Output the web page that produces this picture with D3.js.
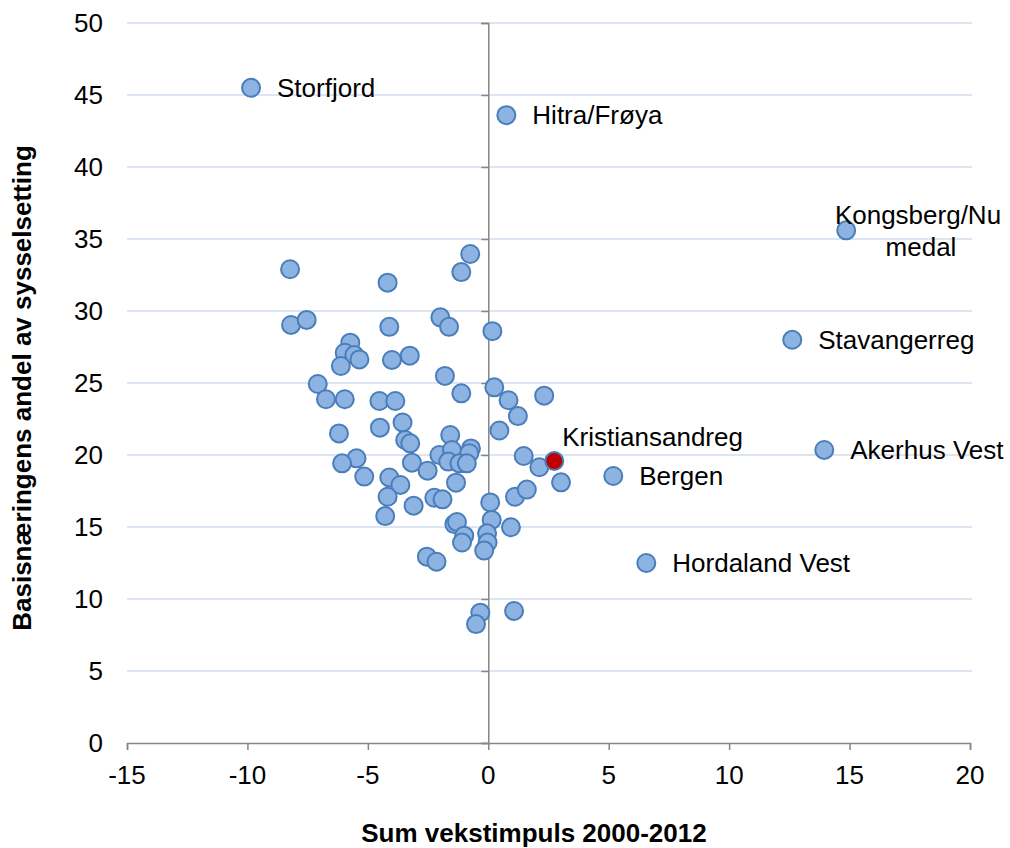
<!DOCTYPE html>
<html>
<head>
<meta charset="utf-8">
<script src="https://cdn.jsdelivr.net/npm/d3@7.9.0/dist/d3.min.js"></script>
<style>
  body { margin: 0; background: #fff; }
  svg text { font-family: "Liberation Sans", Arial, sans-serif; fill: #000; }
</style>
</head>
<body>
<svg id="chart" width="1010" height="848"></svg>
<script>
// unlabelled regions: growth impulse (x) and base industry share (y)
const otherX = [-8.23, -0.75, -1.12, -4.18, -8.19, -7.54, -4.11, -1.99, -1.63, 0.17,
  -5.73, -5.96, -5.56, -5.35, -6.12, -4.0, -3.26, -1.8, -7.08, -6.74,
  -5.96, -4.52, -3.86, -1.12, 0.25, 0.84, 1.23, 2.32, -3.56, -4.5,
  -6.2, 0.46, -3.45, -3.24, -1.58, -5.47, -6.07, -5.15, -3.17, -2.52,
  -2.03, -1.51, -1.66, -0.72, -0.79, -1.2, -0.89, -1.34, -4.11, -3.65,
  -4.18, -4.28, -3.1, -2.24, -1.9, 0.08, 1.11, 1.6, 1.47, 2.12,
  3.02, -1.41, -1.3, 0.14, 0.94, -0.05, -1.0, -1.09, -0.03, -0.17,
  -2.55, -2.15, -0.33, -0.51, 1.07];
const otherY = [32.9, 33.96, 32.7, 31.97, 29.03, 29.38, 28.9, 29.56, 28.9, 28.6,
  27.8, 27.1, 26.94, 26.64, 26.18, 26.6, 26.9, 25.49, 24.93, 23.87,
  23.87, 23.75, 23.75, 24.28, 24.7, 23.8, 22.7, 24.12, 22.26, 21.9,
  21.5, 21.7, 21.04, 20.81, 21.39, 19.77, 19.42, 18.5, 19.47, 18.91,
  20.0, 20.35, 19.54, 20.46, 20.12, 19.42, 19.42, 18.08, 18.44, 17.92,
  17.1, 15.76, 16.48, 17.03, 16.92, 16.71, 17.1, 17.6, 19.93, 19.15,
  18.1, 15.2, 15.35, 15.49, 14.98, 14.56, 14.4, 13.92, 13.92, 13.36,
  12.94, 12.59, 9.05, 8.26, 9.17];

// labelled regions
const labelNames = ["Storfjord", "Hitra/Frøya", "Kongsberg/Numedal", "Stavangerreg", "Akerhus Vest", "Bergen", "Hordaland Vest"];
const labelX = [-9.85, 0.75, 14.86, 12.62, 13.95, 5.19, 6.56];
const labelY = [45.5, 43.6, 35.6, 28.0, 20.35, 18.54, 12.5];

// highlighted region
const hiName = "Kristiansandreg";
const hiX = 2.74;
const hiY = 19.58;

const xTicks = [-15, -10, -5, 0, 5, 10, 15, 20];
const yTicks = [0, 5, 10, 15, 20, 25, 30, 35, 40, 45, 50];

const svg = d3.select('#chart');
const x = d3.scaleLinear().domain([-15, 20]).range([127, 970]);
const y = d3.scaleLinear().domain([0, 50]).range([743, 23]);

// gridlines
svg.append('g')
  .selectAll('line')
  .data(yTicks.filter(d => d > 0))
  .join('line')
  .attr('x1', x(-15)).attr('x2', 972)
  .attr('y1', d => y(d)).attr('y2', d => y(d))
  .attr('stroke', '#dce6f2').attr('stroke-width', 2);

// y axis at x = 0
const yAxis = svg.append('g')
  .attr('transform', `translate(${x(0)},0)`)
  .call(d3.axisLeft(y).tickValues(yTicks).tickSize(7).tickFormat(''));
yAxis.selectAll('line, path').attr('stroke', '#868686').attr('stroke-width', 1.5);

// x axis at y = 0
const xAxis = svg.append('g')
  .attr('transform', `translate(0,${y(0)})`)
  .call(d3.axisBottom(x).tickValues(xTicks).tickSize(7).tickFormat(''));
xAxis.selectAll('line, path').attr('stroke', '#868686').attr('stroke-width', 1.5);

// tick labels
svg.append('g')
  .selectAll('text')
  .data(yTicks)
  .join('text')
  .attr('x', 103).attr('y', d => y(d) + 9)
  .attr('text-anchor', 'end')
  .attr('font-size', 26)
  .text(d => d);

svg.append('g')
  .selectAll('text')
  .data(xTicks)
  .join('text')
  .attr('x', d => x(d)).attr('y', 784)
  .attr('text-anchor', 'middle')
  .attr('font-size', 26)
  .text(d => d);

// axis titles
svg.append('text')
  .attr('x', 534).attr('y', 842)
  .attr('text-anchor', 'middle')
  .attr('font-size', 26).attr('font-weight', 'bold')
  .text('Sum vekstimpuls 2000-2012');

svg.append('text')
  .attr('transform', 'translate(31,388) rotate(-90)')
  .attr('text-anchor', 'middle')
  .attr('font-size', 26).attr('font-weight', 'bold')
  .text('Basisnæringens andel av sysselsetting');

// points
const pts = otherX.map((v, i) => ({ x: v, y: otherY[i] }))
  .concat(labelX.map((v, i) => ({ x: v, y: labelY[i] })));

svg.append('g')
  .selectAll('circle')
  .data(pts)
  .join('circle')
  .attr('cx', d => x(d.x)).attr('cy', d => y(d.y))
  .attr('r', 9)
  .attr('fill', '#8db3e2')
  .attr('stroke', '#4a7ebb').attr('stroke-width', 2);

svg.append('circle')
  .attr('cx', x(hiX)).attr('cy', y(hiY))
  .attr('r', 9)
  .attr('fill', '#c00000')
  .attr('stroke', '#4a7ebb').attr('stroke-width', 2);

// labels
labelNames.forEach((name, i) => {
  if (name === 'Kongsberg/Numedal') {
    const t = svg.append('text')
      .attr('text-anchor', 'middle')
      .attr('font-size', 26);
    t.append('tspan').attr('x', 918).attr('y', y(labelY[i]) - 6).text('Kongsberg/Nu');
    t.append('tspan').attr('x', 921).attr('y', y(labelY[i]) + 26).text('medal');
    return;
  }
  svg.append('text')
    .attr('x', x(labelX[i]) + 26).attr('y', y(labelY[i]) + 9)
    .attr('font-size', 26)
    .text(name);
});

svg.append('text')
  .attr('x', x(hiX) + 8).attr('y', y(hiY) - 15)
  .attr('font-size', 26)
  .text(hiName);
</script>
</body>
</html>
